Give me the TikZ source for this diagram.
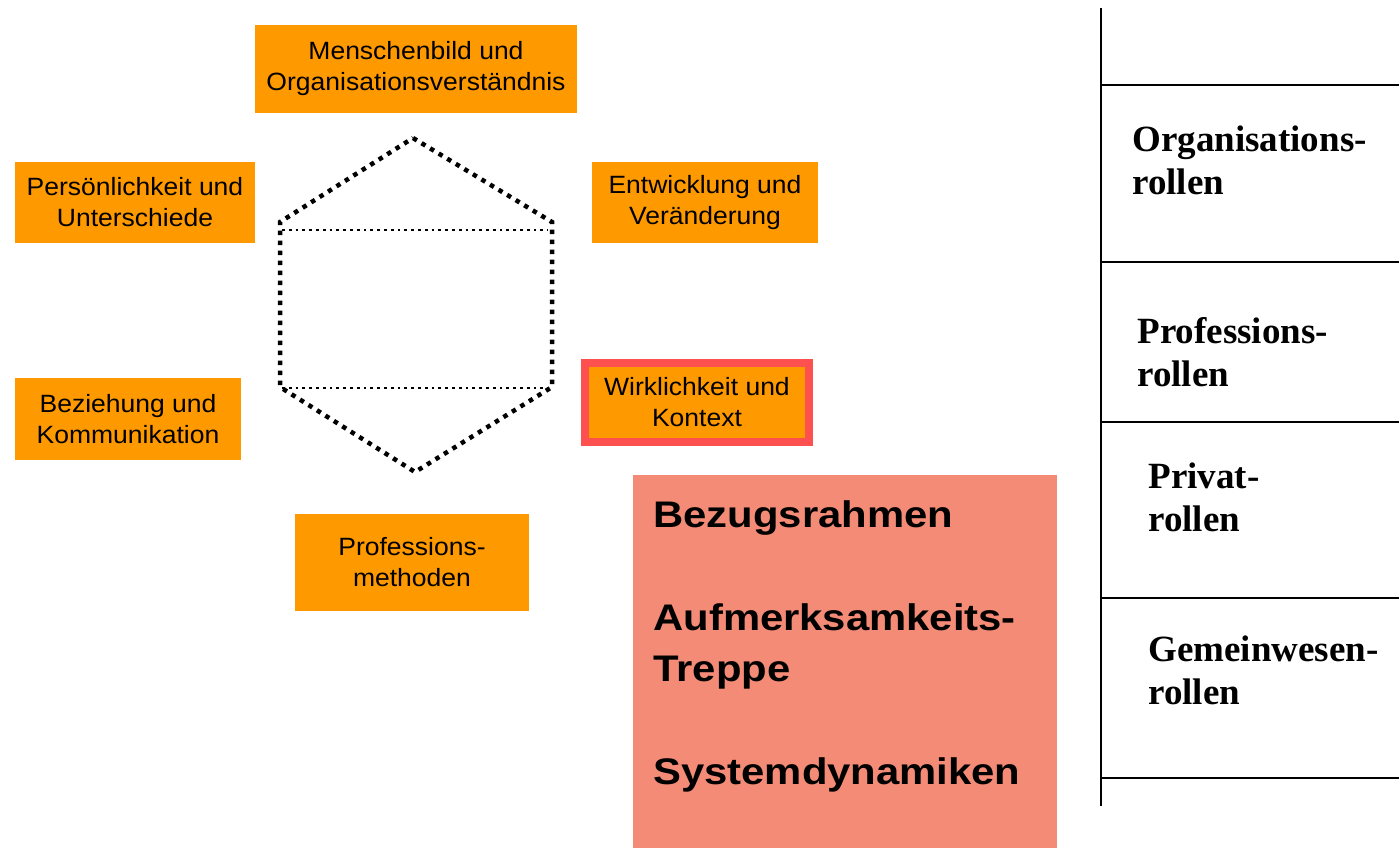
\documentclass[tikz,border=0pt]{standalone}
\usepackage{fontspec}
\setmainfont{Liberation Serif}
\newfontfamily\arialfont[FakeStretch=1.06]{Liberation Sans}
\newfontfamily\arialwide[FakeStretch=1.13]{Liberation Sans}
\usetikzlibrary{calc, positioning}
\definecolor{kastenorange}{HTML}{FF9900}
\definecolor{randrot}{HTML}{FF5050}
\definecolor{lachs}{HTML}{F38B77}

\tikzset{
  feld/.style={fill=kastenorange, inner sep=0pt, align=center,
    font=\arialfont\fontsize{12.5}{15.5}\selectfont},
  markiert/.style={feld, draw=randrot, line width=4pt},
  lachsfeld/.style={fill=lachs, inner sep=0pt},
  stichwort/.style={anchor=north west, inner sep=0pt, align=left,
    font=\arialwide\bfseries\fontsize{18.5}{25.75}\selectfont},
  rolle/.style={anchor=north west, inner sep=0pt, align=left,
    font=\bfseries\fontsize{18.5}{21.5}\selectfont},
  sechseck/.style={line width=2.25pt, dash pattern=on 2.25pt off 2.75pt},
  innenlinie/.style={line width=1.4pt, dash pattern=on 1.4pt off 2pt},
  trennlinie/.style={line width=0.8pt}
}

\begin{document}
\begin{tikzpicture}[x=0.5pt, y=-0.5pt]
  \useasboundingbox (0,0) rectangle (1399,848);

  % Kaesten um das Sechseck
  \node[feld, minimum width=161pt, minimum height=44pt] (menschenbild) at (416,69)
    {Menschenbild und\\Organisationsverständnis};
  \node[feld, minimum width=120pt, minimum height=40.5pt] (persoenlichkeit) at (135,202.5)
    {Persönlichkeit und\\Unterschiede};
  \node[feld, minimum width=113pt, minimum height=40.5pt] (entwicklung) at (705,202.5)
    {Entwicklung und\\Veränderung};
  \node[feld, minimum width=113pt, minimum height=41pt] (beziehung) at (128,419)
    {Beziehung und\\Kommunikation};
  \node[markiert, minimum width=112pt, minimum height=39.5pt] (wirklichkeit) at (697,402.5)
    {Wirklichkeit und\\Kontext};
  \node[feld, minimum width=117pt, minimum height=48.5pt] (methoden) at (412,562.5)
    {Professions-\\methoden};

  % Sechseck
  \coordinate (s1) at (413,138);
  \coordinate (s2) at (552,222);
  \coordinate (s3) at (552,387);
  \coordinate (s4) at (415,472);
  \coordinate (s5) at (280,387);
  \coordinate (s6) at (280,222);
  \draw[sechseck] (s1) -- (s2) -- (s3) -- (s4) -- (s5) -- (s6) -- cycle;
  \draw[innenlinie] (282,230) -- (548,230);
  \draw[innenlinie] (282,388) -- (548,388);

  % Lachsfarbener Kasten
  \node[lachsfeld, minimum width=212pt, minimum height=186.5pt] (themen) at (845,661.5) {};
  \node[stichwort] (stichworte) at (653,500)
    {Bezugsrahmen\\[25.75pt]Aufmerksamkeits-\\Treppe\\[25.75pt]Systemdynamiken};

  % Rollenspalte rechts
  \coordinate (oben) at (1101,8);
  \coordinate (unten) at (1101,806);
  \draw[trennlinie] (oben) -- (unten);
  \foreach \y in {85,262,422,598,778}
    \draw[trennlinie] (1101,\y) -- (1399,\y);

  \node[rolle] (organisation) at (1132,125) {Organisations-\\rollen};
  \node[rolle] (profession) at (1137,317) {Professions-\\rollen};
  \node[rolle] (privat) at (1148,462) {Privat-\\rollen};
  \node[rolle] (gemeinwesen) at (1148,635) {Gemeinwesen-\\rollen};
\end{tikzpicture}
\end{document}
